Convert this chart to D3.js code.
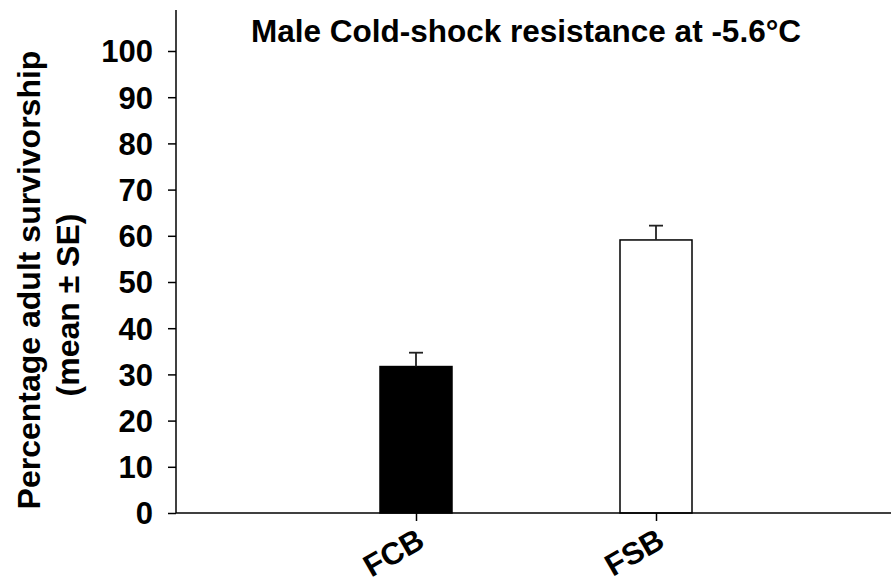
<!DOCTYPE html>
<html>
<head>
<meta charset="utf-8">
<script src="https://cdn.jsdelivr.net/npm/d3@7"></script>
<style>
  body { margin: 0; background: #fff; }
  svg { display: block; font-family: "Liberation Sans", Arial, sans-serif; font-weight: bold; }
</style>
</head>
<body>
<div id="chart"></div>
<script>
// data
const groups = ["FCB", "FSB"];
const means = [31.7, 59.1];
const errors = [3.0, 3.1];
const fills = ["#000000", "#ffffff"];
const yTicks = [0, 10, 20, 30, 40, 50, 60, 70, 80, 90, 100];

const width = 891, height = 586;
const x0 = 176, x1 = 896, yBase = 513;

const svg = d3.select("#chart")
    .append("svg")
    .attr("width", width)
    .attr("height", height);

const x = d3.scalePoint()
    .domain(groups)
    .range([x0, x1])
    .padding(1);

const y = d3.scaleLinear()
    .domain([0, 100])
    .range([yBase, 51]);

const barW = x.step() * 0.3;

// y axis
const yAxis = svg.append("g")
    .attr("transform", `translate(${x0},0)`)
    .call(d3.axisLeft(y).tickValues(yTicks).tickSize(8).tickPadding(15).tickSizeOuter(0));
yAxis.select(".domain").remove();
yAxis.append("line")
    .attr("x1", 0).attr("x2", 0)
    .attr("y1", y(0)).attr("y2", y(108.9))
    .attr("stroke", "#000").attr("stroke-width", 1.5);
yAxis.selectAll(".tick line").attr("stroke-width", 1.5);
yAxis.selectAll(".tick text")
    .attr("font-size", 31)
    .attr("font-weight", "bold")
    .attr("fill", "#000")
    .attr("dy", "0.35em");

// bars
svg.append("g")
    .selectAll("rect")
    .data(groups)
    .enter()
    .append("rect")
    .attr("x", d => x(d) - barW / 2)
    .attr("y", (d, i) => y(means[i]))
    .attr("width", barW)
    .attr("height", (d, i) => y(0) - y(means[i]))
    .attr("fill", (d, i) => fills[i])
    .attr("stroke", "#000")
    .attr("stroke-width", 1.5);

// error bars (upper only)
const err = svg.append("g").attr("stroke", "#222").attr("stroke-width", 1.8);
groups.forEach((g, i) => {
    err.append("line")
        .attr("x1", x(g)).attr("x2", x(g))
        .attr("y1", y(means[i])).attr("y2", y(means[i] + errors[i]));
    err.append("line")
        .attr("x1", x(g) - 7).attr("x2", x(g) + 7)
        .attr("y1", y(means[i] + errors[i])).attr("y2", y(means[i] + errors[i]));
});

// x axis
const xAxis = svg.append("g")
    .attr("transform", `translate(0,${yBase})`)
    .call(d3.axisBottom(x).tickSize(8).tickSizeOuter(0));
xAxis.select(".domain").remove();
xAxis.append("line")
    .attr("x1", x0).attr("x2", x1)
    .attr("stroke", "#000").attr("stroke-width", 1.5);
xAxis.selectAll(".tick text")
    .attr("font-size", 31)
    .attr("font-weight", "bold")
    .attr("fill", "#000")
    .attr("text-anchor", "end")
    .attr("x", 0).attr("y", 0).attr("dy", 0)
    .attr("transform", "translate(10,33) rotate(-30)");
xAxis.selectAll(".tick line").attr("stroke-width", 1.5);

// title
svg.append("text")
    .attr("x", 526)
    .attr("y", 42)
    .attr("text-anchor", "middle")
    .attr("font-size", 31.5)
    .text("Male Cold-shock resistance at -5.6°C");

// y label, two lines
svg.append("text")
    .attr("transform", "translate(40,280) rotate(-90)")
    .attr("text-anchor", "middle")
    .attr("font-size", 32)
    .text("Percentage adult survivorship");
svg.append("text")
    .attr("transform", "translate(79,305) rotate(-90)")
    .attr("text-anchor", "middle")
    .attr("font-size", 32)
    .text("(mean ± SE)");
</script>
</body>
</html>
